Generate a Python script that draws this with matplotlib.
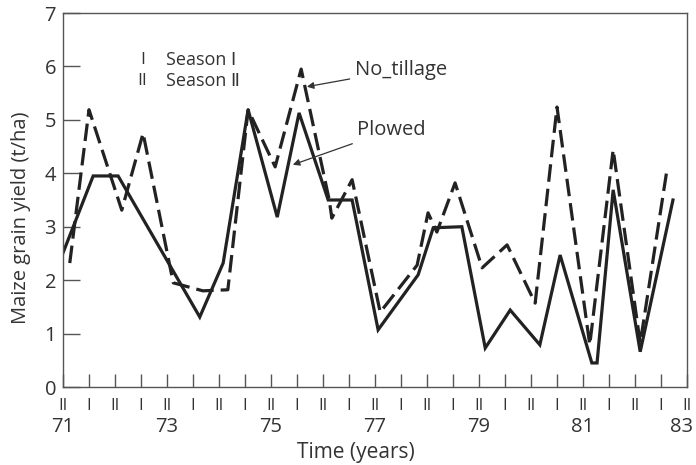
import matplotlib
matplotlib.use("Agg")
import matplotlib.pyplot as plt
import numpy as np

# ---- data ----
plowed_x = [71.0, 71.58, 72.06, 73.63, 74.08, 74.56, 75.12, 75.54, 76.10, 76.56,
            77.06, 77.83, 78.12, 78.67, 79.12, 79.60, 80.17, 80.56, 81.17, 81.27,
            81.58, 82.10, 82.73]
plowed_y = [2.51, 3.95, 3.95, 1.31, 2.32, 5.19, 3.18, 5.13, 3.50, 3.50,
            1.07, 2.10, 2.98, 3.00, 0.73, 1.44, 0.79, 2.47, 0.45, 0.45,
            3.69, 0.66, 3.50]

notill_x = [71.13, 71.50, 72.13, 72.54, 73.12, 73.69, 74.17, 74.56, 75.08, 75.58,
            76.12, 76.17, 76.56, 77.10, 77.81, 78.02, 78.19, 78.54, 79.06, 79.54,
            80.08, 80.50, 81.13, 81.58, 82.10, 82.62]
notill_y = [2.32, 5.19, 3.31, 4.75, 1.95, 1.80, 1.82, 5.19, 4.12, 5.95,
            3.50, 3.16, 3.88, 1.40, 2.28, 3.26, 2.90, 3.82, 2.23, 2.66,
            1.57, 5.24, 0.79, 4.44, 0.82, 4.10]

season_ticks = list(np.arange(71.0, 83.01, 0.5))
season_labels = ["II" if abs(t - round(t)) < 1e-9 else "I" for t in season_ticks]
year_ticks = [71, 73, 75, 77, 79, 81, 83]
year_labels = ["71", "73", "75", "77", "79", "81", "83"]
y_ticks = [0, 1, 2, 3, 4, 5, 6, 7]

FONT = "Open Sans"
ink = "#222222"
txt = "#333333"

fig = plt.figure(figsize=(6.96, 4.65), dpi=100)
ax = fig.add_axes([63/696, 78/465, 624/696, 374/465])

ax.plot(plowed_x, plowed_y, color=ink, lw=2.3, solid_joinstyle="miter")
ax.plot(notill_x, notill_y, color=ink, lw=2.3, dashes=(5.5, 2.2))

ax.set_xlim(71, 83)
ax.set_ylim(0, 7)

for s in ax.spines.values():
    s.set_linewidth(1.0)
    s.set_color("#555555")

ax.set_yticks(y_ticks)
ax.set_yticklabels([str(v) for v in y_ticks], fontsize=14.5, family=FONT, color=txt)
ax.tick_params(axis="y", direction="in", length=12, width=1.0, color="#555555", pad=5)

ax.set_xticks(season_ticks)
ax.set_xticklabels(season_labels, fontsize=12, family=FONT, color=txt)
ax.tick_params(axis="x", direction="in", length=9.5, width=1.0, color="#555555", pad=8)

for t, lab in zip(year_ticks, year_labels):
    xt = min(t, 82.9)
    ax.text(xt, -0.107, lab, transform=ax.get_xaxis_transform(), ha="center", va="center",
            fontsize=14.5, family=FONT, color=txt)

ax.text(0.47, -0.174, "Time (years)", transform=ax.transAxes, ha="center", va="center",
        fontsize=15, family=FONT, color=txt)
ax.text(-0.068, 0.452, "Maize grain yield (t/ha)", transform=ax.transAxes, ha="center",
        va="center", rotation=90, fontsize=14.5, family=FONT, color=txt)

# legend-like texts
ax.text(0.127, 0.874, "I", transform=ax.transAxes, ha="center", va="center",
        fontsize=12.5, family=FONT, color=txt)
ax.text(0.165, 0.874, "Season Ⅰ", transform=ax.transAxes, ha="left", va="center",
        fontsize=13, family=[FONT, "DejaVu Sans"], color=txt)
ax.text(0.127, 0.818, "II", transform=ax.transAxes, ha="center", va="center",
        fontsize=12.5, family=FONT, color=txt)
ax.text(0.165, 0.818, "Season Ⅱ", transform=ax.transAxes, ha="left", va="center",
        fontsize=13, family=[FONT, "DejaVu Sans"], color=txt)

arrow = dict(arrowstyle="-|>", color=txt, lw=0.9, mutation_scale=10, shrinkA=2, shrinkB=0)
ax.annotate("No_tillage", xy=(75.69, 5.62), xytext=(76.62, 5.94), ha="left", va="center",
            fontsize=14.5, family=FONT, color=txt, arrowprops=arrow)
ax.annotate("Plowed", xy=(75.42, 4.16), xytext=(76.65, 4.81), ha="left", va="center",
            fontsize=14.5, family=FONT, color=txt, arrowprops=arrow)

fig.savefig("out.png", dpi=100)
